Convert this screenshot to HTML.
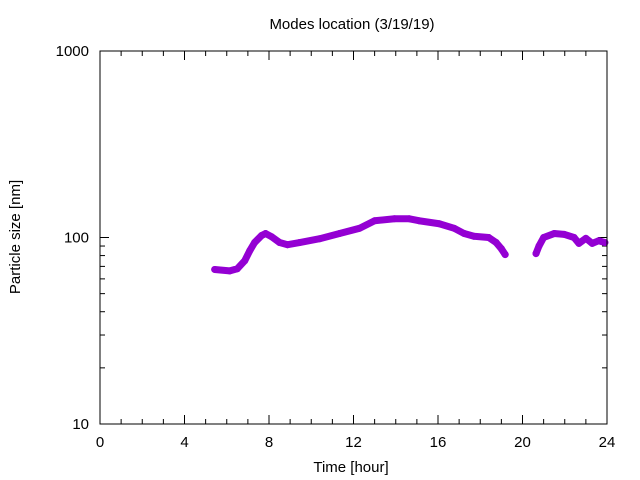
<!DOCTYPE html>
<html><head><meta charset="utf-8"><style>
body{margin:0;background:#fff}
svg{display:block;font-family:"Liberation Sans",sans-serif}
</style></head><body>
<svg id="c" width="640" height="480">
<text x="352" y="29" text-anchor="middle" font-size="15">Modes location (3/19/19)</text>
<text x="351" y="472" text-anchor="middle" font-size="15">Time [hour]</text>
<text x="20" y="237" text-anchor="middle" font-size="15" transform="rotate(-90 20 237)">Particle size [nm]</text>
<g id="ax"></g>
<g id="ser"></g>
<rect x="100" y="51" width="507" height="373" fill="none" stroke="#000" stroke-width="1"/>
</svg>
<script>
const times=[5.43,6.14,6.5,6.85,7.09,7.32,7.65,7.84,8.12,8.5,8.88,9.45,10.4,11.34,12.28,13,13.94,14.64,15.1,16.06,16.77,17.24,17.7,18.4,18.75,19,19.18,null,20.64,20.78,21.0,21.5,21.97,22.44,22.67,23,23.3,23.6,23.9];
const sizes=[67.4,66.2,68,75,85,94,102.5,105,101,94,91.5,94,98.5,105,112,123,126,126,123,118.5,112,105,101.5,100,94,87,81,null,82,90,100,105,104,100,93,99,93,96,94];
const xTicks=[0,4,8,12,16,20,24];
const yTicks=[10,100,1000];
const X0=100,X1=607,Y0=424,Y1=51;
const xs=t=>X0+(X1-X0)*t/24;
const ys=v=>Y0-(Y0-Y1)*(Math.log10(v)-1)/2;
const NS="http://www.w3.org/2000/svg";
const ax=document.getElementById('ax'),ser=document.getElementById('ser');
function mk(tag,a,p){const e=document.createElementNS(NS,tag);for(const k in a)e.setAttribute(k,a[k]);p.appendChild(e);return e;}
for(let h=0;h<=24;h++){
 const x=xs(h),L=h%4===0?9:5;
 const t1=mk('line',{x1:x,x2:x,y1:Y0,y2:Y0-L,stroke:'#000'},ax);
 
 
 const t2=mk('line',{x1:x,x2:x,y1:Y1,y2:Y1+L,stroke:'#000'},ax);
 
 
}
xTicks.forEach(t=>{
 const e=mk('text',{x:xs(t),y:447,'text-anchor':'middle','font-size':15},ax);
 e.textContent=t;
 
 
});
for(let d=1;d<=2;d++)for(let m=1;m<=10;m++){
 if(d===2&&m>1)break;
 const v=Math.pow(10,d)*m;if(m===10&&d===1)continue;
 const y=ys(v),L=m===1?9:5;
 const a=mk('line',{x1:X0,x2:X0+L,y1:y,y2:y,stroke:'#000'},ax);
 
 
 const b=mk('line',{x1:X1,x2:X1-L,y1:y,y2:y,stroke:'#000'},ax);
 
 
}
yTicks.forEach(v=>{
 const e=mk('text',{x:89,y:ys(v)+5,'text-anchor':'end','font-size':15},ax);
 e.textContent=v;
 
 
});
let seg=[];
const segs=[];
times.forEach((t,i)=>{if(t===null){segs.push(seg);seg=[];}else seg.push([xs(t),ys(sizes[i])]);});
segs.push(seg);
segs.forEach(s=>{
 const p=mk('polyline',{points:s.map(q=>q.join(',')).join(' '),fill:'none',stroke:'#9400d3','stroke-width':7,'stroke-linejoin':'round','stroke-linecap':'round'},ser);
 
 
});
times.forEach((t,i)=>{
 if(t===null)return;
 const c=mk('circle',{cx:xs(t),cy:ys(sizes[i]),r:3.5,fill:'#9400d3'},ser);
 
 
});
</script>
</body></html>
